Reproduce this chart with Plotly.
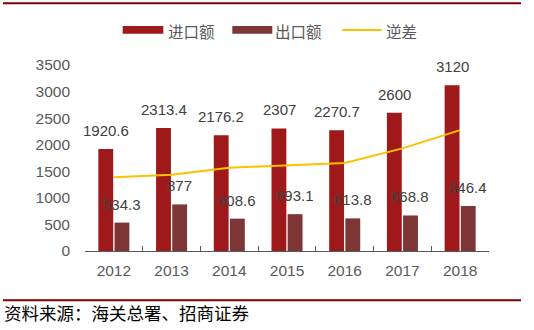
import plotly.graph_objects as go

years = ["2012", "2013", "2014", "2015", "2016", "2017", "2018"]
imports = [1920.6, 2313.4, 2176.2, 2307, 2270.7, 2600, 3120]
exports = [534.3, 877, 608.6, 693.1, 613.8, 668.8, 846.4]
deficit = [1386.3, 1436.4, 1567.6, 1613.9, 1656.9, 1931.2, 2273.6]
import_labels = ["1920.6", "2313.4", "2176.2", "2307", "2270.7", "2600", "3120"]
export_labels = ["534.3", "877", "608.6", "693.1", "613.8", "668.8", "846.4"]
legend_names = ["进口额", "出口额", "逆差"]
source_text = "资料来源：海关总署、招商证券"

C_IMP = "#A0191A"
C_EXP = "#7D3535"
C_LINE = "#FFC000"
C_RULE = "#7F0000"
NUM_FONT = "Liberation Sans, Arial, sans-serif"
CJK_FONT = "Noto Sans CJK SC"

fig = go.Figure()
fig.add_trace(go.Bar(x=years, y=imports, name=legend_names[0], marker_color=C_IMP,
                     marker_line_width=0, showlegend=False))
fig.add_trace(go.Bar(x=years, y=exports, name=legend_names[1], marker_color=C_EXP,
                     marker_line_width=0, showlegend=False))
fig.add_trace(go.Scatter(x=years, y=deficit, name=legend_names[2], mode="lines",
                         line=dict(color=C_LINE, width=2), showlegend=False))

annotations = []
for i, (v, t) in enumerate(zip(imports, import_labels)):
    annotations.append(dict(x=i, y=v, xref="x", yref="y", text=t, showarrow=False,
                            xshift=-8, yshift=8, yanchor="bottom",
                            font=dict(family=NUM_FONT, size=15, color="#404040")))
for i, (v, t) in enumerate(zip(exports, export_labels)):
    annotations.append(dict(x=i, y=v, xref="x", yref="y", text=t, showarrow=False,
                            xshift=8, yshift=8, yanchor="bottom",
                            font=dict(family=NUM_FONT, size=15, color="#404040")))

# custom legend (pixel based, in paper coords)
W, H = 534, 330
ml, mr, mt, mb = 85, 45, 65, 78.5
pw, ph = W - ml - mr, H - mt - mb


def px(x):
    return (x - ml) / pw


def py(y):
    return (H - mb - y) / ph


shapes = []
shapes.append(dict(type="rect", xref="paper", yref="paper", x0=px(122.7), x1=px(163.3),
                   y0=py(33.7), y1=py(26), fillcolor=C_IMP, line=dict(width=0)))
shapes.append(dict(type="rect", xref="paper", yref="paper", x0=px(232.3), x1=px(272.3),
                   y0=py(33.7), y1=py(26), fillcolor=C_EXP, line=dict(width=0)))
shapes.append(dict(type="line", xref="paper", yref="paper", x0=px(342.3), x1=px(381.7),
                   y0=py(30), y1=py(30), line=dict(color=C_LINE, width=2)))
for xs, name in zip([165.5, 272.5, 384], legend_names):
    annotations.append(dict(x=px(xs), y=py(30.5), xref="paper", yref="paper", text=name,
                            showarrow=False, xanchor="left", yanchor="middle",
                            font=dict(family=CJK_FONT, size=15.5, color="#595959")))

# top and bottom rules
shapes.append(dict(type="line", xref="paper", yref="paper", x0=px(3), x1=px(521),
                   y0=py(3), y1=py(3), line=dict(color=C_RULE, width=2)))
shapes.append(dict(type="line", xref="paper", yref="paper", x0=px(3), x1=px(521),
                   y0=py(301), y1=py(301), line=dict(color=C_RULE, width=2)))
annotations.append(dict(x=px(2), y=py(313.5), xref="paper", yref="paper", text=source_text,
                        showarrow=False, xanchor="left", yanchor="middle",
                        font=dict(family=CJK_FONT, size=17.5, color="#000000")))

fig.update_layout(
    width=W, height=H,
    margin=dict(l=ml, r=mr, t=mt, b=mb, pad=0),
    paper_bgcolor="white", plot_bgcolor="white",
    barmode="group", bargap=0.44, bargroupgap=0.08,
    showlegend=False,
    shapes=shapes, annotations=annotations,
    xaxis=dict(type="category", range=[-0.5, len(years) - 0.5], autorange=False,
               showline=True, linecolor="#595959", linewidth=1,
               ticks="inside", ticklen=5, tickcolor="#595959", tickson="boundaries",
               ticklabelstandoff=5,
               tickfont=dict(family=NUM_FONT, size=15.5, color="#595959"),
               showgrid=False, zeroline=False),
    yaxis=dict(range=[0, 3500], autorange=False, dtick=500, showgrid=False, zeroline=False,
               showline=False, ticks="", ticklabelstandoff=14,
               tickfont=dict(family=NUM_FONT, size=15.5, color="#595959")),
)

fig.write_html("out.html")
